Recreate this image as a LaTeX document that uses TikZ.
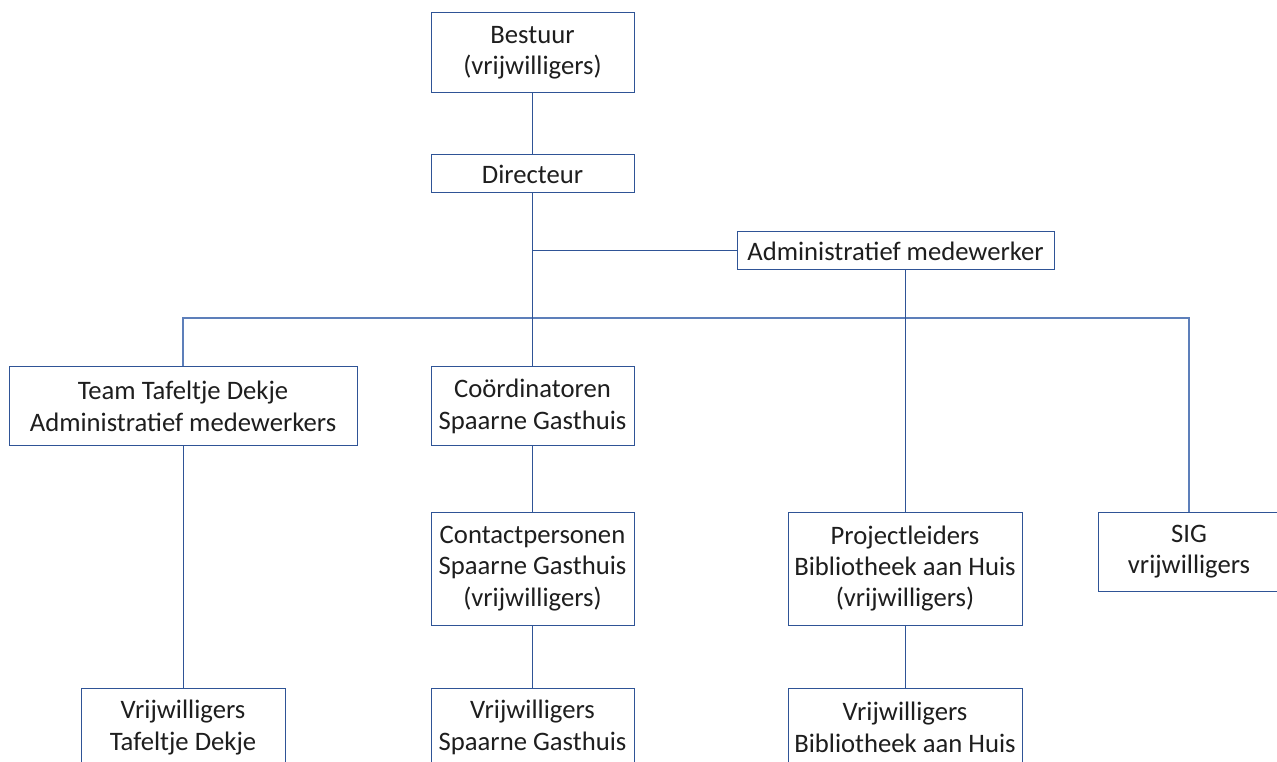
\documentclass[tikz,border=0pt]{standalone}
\usepackage{fontspec}
\setmainfont{Carlito}
\definecolor{boxblue}{HTML}{2F5496}
\definecolor{lineblue}{HTML}{2F5496}
\definecolor{buslblue}{HTML}{5D7FBA}
\definecolor{textgray}{HTML}{1E1E1E}
\begin{document}
\begin{tikzpicture}[x=0.75pt,y=-0.75pt,
  box/.style={draw=boxblue, line width=0.75pt, align=center, inner sep=0pt, fill=white,
    font=\fontsize{20}{23.5}\selectfont, text=textgray},
  bw/.style={minimum width={#1*0.75pt}},
  bh/.style={minimum height={#1*0.75pt}},
  conn/.style={draw=lineblue, line width=0.75pt},
  busconn/.style={draw=buslblue, line width=1pt}]
\useasboundingbox (0,0) rectangle (1277,762);
\clip (0,0) rectangle (1277,762);
\fill[white] (0,0) rectangle (1277,762);
\coordinate (bus) at (0,318);
\node[box, bw=203, bh=80] (bestuur) at (532.5,53) {Bestuur\\(vrijwilligers)};
\node[box, bw=203, bh=38] (directeur) at (532.5,174) {Directeur};
\node[box, bw=317, bh=38] (admin) at (895.5,251) {Administratief medewerker};
\node[box, bw=348, bh=79] (team) at (183,406.5) {Team Tafeltje Dekje\\Administratief medewerkers};
\node[box, bw=203, bh=79] (coord) at (532.5,406.5) {Coördinatoren\\Spaarne Gasthuis};
\node[box, bw=203, bh=113] (contact) at (532.5,568.5) {Contactpersonen\\Spaarne Gasthuis\\(vrijwilligers)};
\node[box, bw=234, bh=113] (proj) at (905,568.5) {Projectleiders\\Bibliotheek aan Huis\\(vrijwilligers)};
\node[box, bw=182, bh=79] (sig) at (1189,551.5) {SIG\\vrijwilligers};
\node[box, bw=204, bh=79] (vtd) at (183,727.5) {Vrijwilligers\\Tafeltje Dekje};
\node[box, bw=203, bh=79] (vsg) at (532.5,727.5) {Vrijwilligers\\Spaarne Gasthuis};
\node[box, bw=234, bh=79] (vbh) at (905,727.5) {Vrijwilligers\\Bibliotheek aan Huis};
\coordinate (j1) at (directeur.south |- admin.west);
\draw[busconn] (team.north) -- (team.north |- bus) -- (sig.north |- bus) -- (sig.north);
\draw[conn] (bestuur) -- (directeur);
\draw[conn] (directeur) -- (coord);
\draw[conn] (j1) -- (admin.west);
\draw[conn] (admin.south -| proj.north) -- (proj.north);
\draw[conn] (team) -- (vtd);
\draw[conn] (coord) -- (contact);
\draw[conn] (contact) -- (vsg);
\draw[conn] (proj) -- (vbh);
\end{tikzpicture}
\end{document}
